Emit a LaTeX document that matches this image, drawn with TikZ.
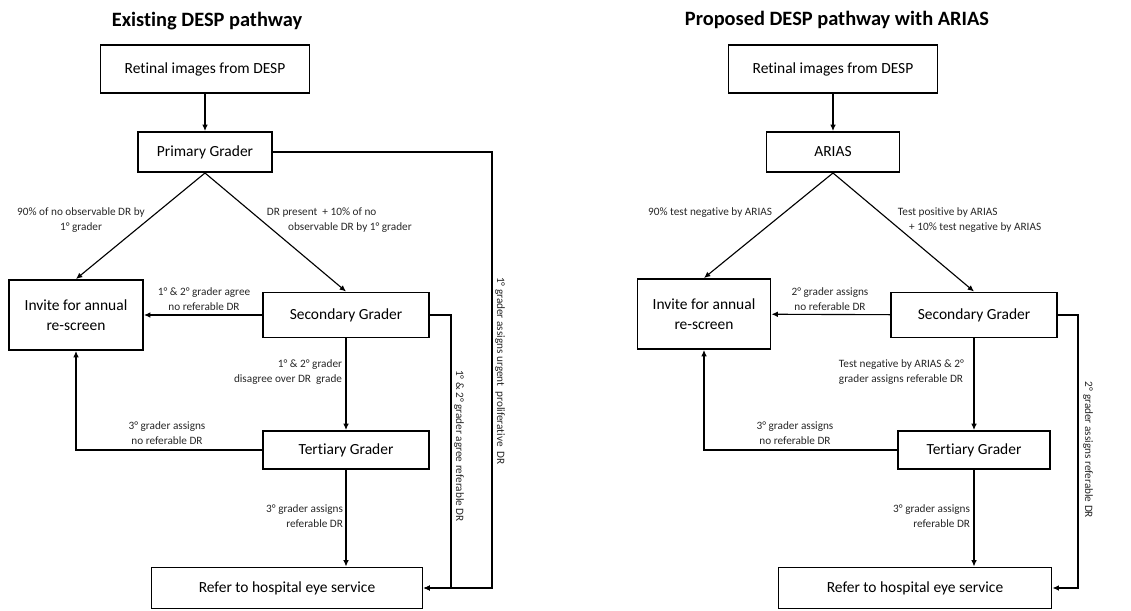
\documentclass[tikz,border=0pt]{standalone}
\usepackage{fontspec}
\setmainfont{Carlito}[Ligatures=NoCommon]
\usetikzlibrary{arrows.meta}
\newcommand{\px}{0.025cm}

\begin{document}
\begin{tikzpicture}[x=\px,y=-\px,
    box/.style={draw,line width=1.4pt,inner sep=0pt,align=center,font=\fontsize{11}{14.5}\selectfont},
    lbl/.style={inner sep=0.5pt,text=black!85,font=\fontsize{8}{10.6}\selectfont},
    ttl/.style={font=\fontsize{14.5}{17}\selectfont\bfseries},
    flow/.style={-{Latex[length=4.5pt,width=4pt]},line width=0.8pt}]
    \useasboundingbox (0,0) rectangle (1131,611);

    % existing pathway
    \node[ttl] (ttlA) at (207,21) {Existing DESP pathway};
    \node[box,minimum width=209*\px,minimum height=48*\px] (ret) at (205,69) {Retinal images from DESP};
    \node[box,minimum width=134*\px,minimum height=40*\px] (prim) at (205,152) {Primary Grader};
    \node[box,minimum width=134*\px,minimum height=70*\px] (inv) at (76,315) {Invite for annual\\re-screen};
    \node[box,minimum width=166*\px,minimum height=45*\px] (sec) at (346,315) {Secondary Grader};
    \node[box,minimum width=166*\px,minimum height=38*\px] (ter) at (346,450) {Tertiary Grader};
    \node[box,minimum width=271*\px,minimum height=41*\px] (ref) at (287,588) {Refer to hospital eye service};
    \coordinate (urg) at (492,0);
    \coordinate (agr) at (451,0);

    \draw[flow] (ret) -- (prim);
    \draw[flow] (prim.south) -- (inv.north);
    \draw[flow] (prim.south) -- (sec.north);
    \draw[flow] (sec) -- (inv);
    \draw[flow] (sec) -- (ter);
    \draw[flow] (ter.west) -| (inv.south);
    \draw[flow] (ter) -- (ref.north -| ter);
    \draw[flow] (sec.east) -| (agr |- ref.east) -- (ref.east);
    \draw[flow] (prim.east) -| (urg |- ref.east) -- (ref.east);

    \node[lbl,align=center] (la) at (81,220) {90\% of no observable DR by\\1° grader};
    \node[lbl,align=left,anchor=west] (lb) at (266,220) {DR present\ \ + 10\% of no\\\hspace{15pt}observable DR by 1° grader};
    \node[lbl,align=center] (lc) at (204,299) {1° \& 2° grader agree\\no referable DR};
    \node[lbl,align=right,anchor=east] (ld) at (343,372) {1° \& 2° grader\\disagree over DR\ \ grade};
    \node[lbl,align=center] (le) at (167,433) {3° grader assigns\\no referable DR};
    \node[lbl,align=right,anchor=east] (lf) at (344,516) {3° grader assigns\\referable DR};
    \node[lbl,rotate=-90] (lg) at (459,446) {1° \& 2° grader agree referable DR};
    \node[lbl,rotate=-90] (lh) at (500,371) {1° grader assigns urgent\ \ proliferative\ \ DR};

    % proposed pathway
    \node[ttl] (ttlB) at (837,20) {Proposed DESP pathway with ARIAS};
    \node[box,minimum width=209*\px,minimum height=48*\px] (retB) at (833,69) {Retinal images from DESP};
    \node[box,minimum width=133*\px,minimum height=40*\px] (arias) at (833,152) {ARIAS};
    \node[box,minimum width=133*\px,minimum height=70*\px] (invB) at (704,314) {Invite for annual\\re-screen};
    \node[box,minimum width=166*\px,minimum height=45*\px] (secB) at (974,315) {Secondary Grader};
    \node[box,minimum width=152*\px,minimum height=38*\px] (terB) at (974,450) {Tertiary Grader};
    \node[box,minimum width=273*\px,minimum height=41*\px] (refB) at (915,588) {Refer to hospital eye service};
    \coordinate (agrB) at (1078,0);

    \draw[flow] (retB) -- (arias);
    \draw[flow] (arias.south) -- (invB.north);
    \draw[flow] (arias.south) -- (secB.north);
    \draw[flow] (secB) -- (invB);
    \draw[flow] (secB) -- (terB);
    \draw[flow] (terB.west) -| (invB.south);
    \draw[flow] (terB) -- (refB.north -| terB);
    \draw[flow] (secB.east) -| (agrB |- refB.east) -- (refB.east);

    \node[lbl,anchor=east] (ra) at (773,213) {90\% test negative by ARIAS};
    \node[lbl,align=left,anchor=west] (rb) at (897,220) {Test positive by ARIAS\\\hspace{8pt}+ 10\% test negative by ARIAS};
    \node[lbl,align=center] (rc) at (830,299) {2° grader assigns\\no referable DR};
    \node[lbl,align=left,anchor=west] (rd) at (838,372) {Test negative by ARIAS \& 2°\\grader assigns referable DR};
    \node[lbl,align=center] (re) at (795,433) {3° grader assigns\\no referable DR};
    \node[lbl,align=right,anchor=east] (rf) at (971,516) {3° grader assigns\\referable DR};
    \node[lbl,rotate=-90] (rg) at (1088,450) {2° grader assigns referable DR};
\end{tikzpicture}
\end{document}
